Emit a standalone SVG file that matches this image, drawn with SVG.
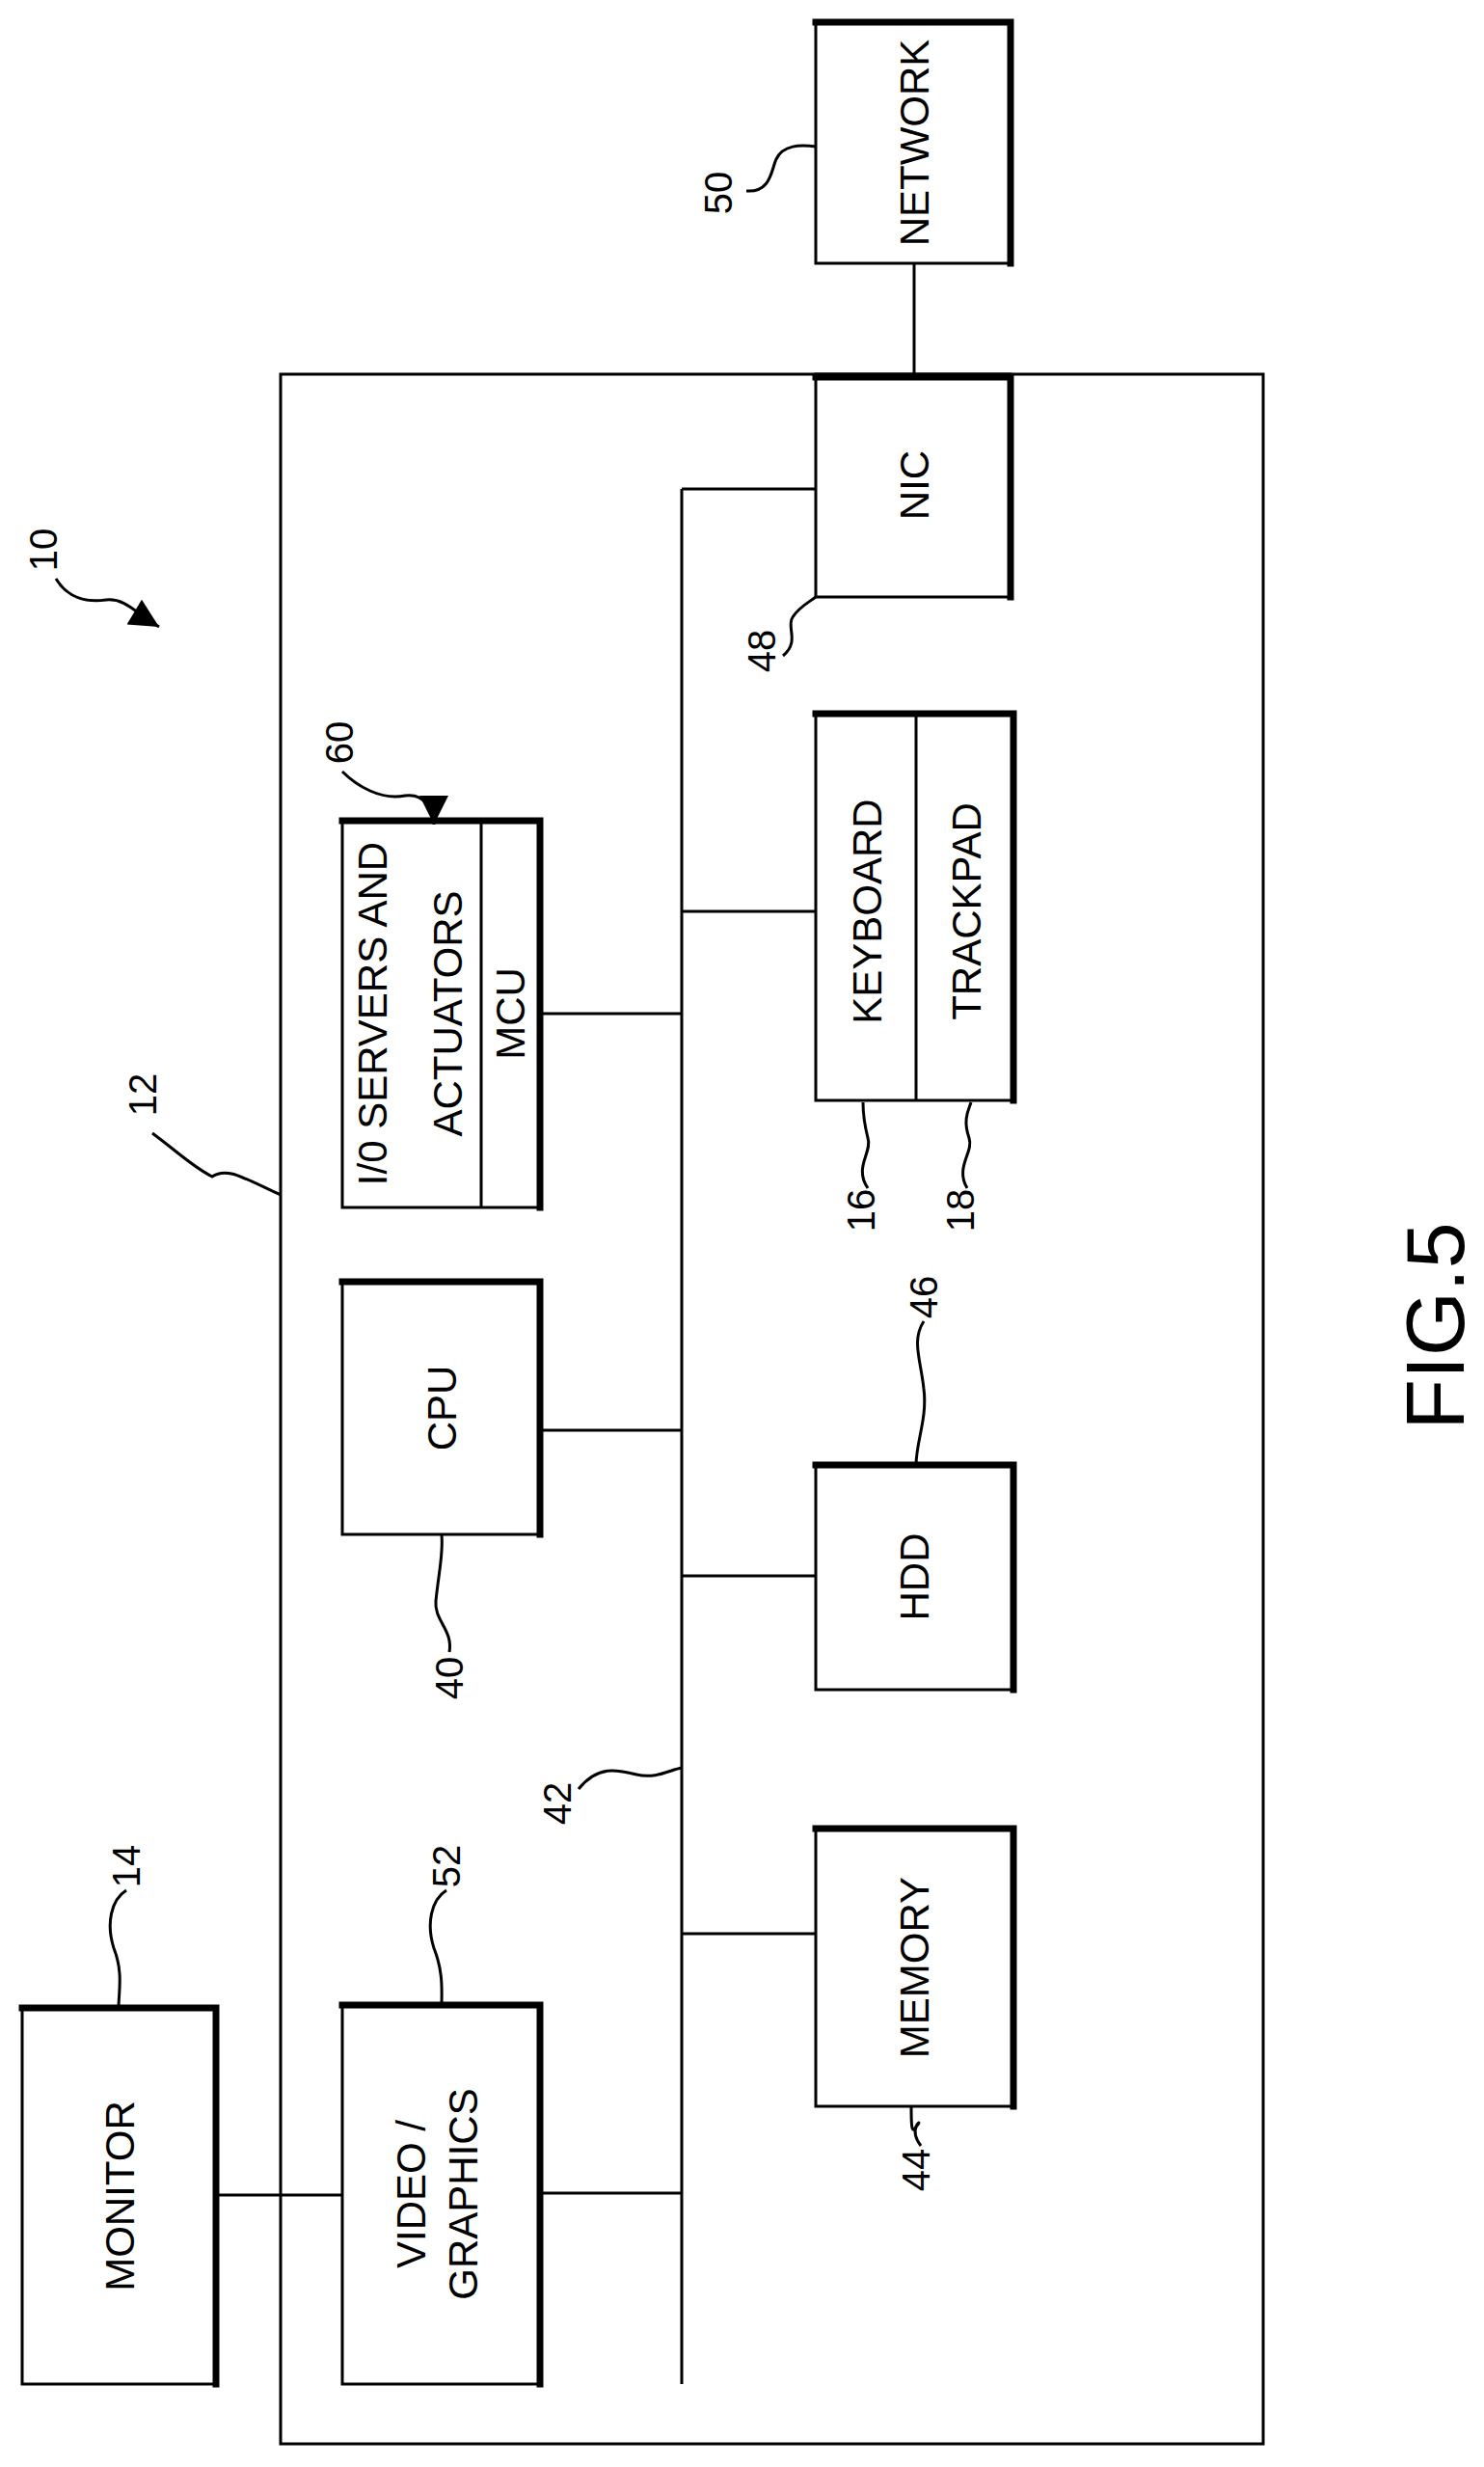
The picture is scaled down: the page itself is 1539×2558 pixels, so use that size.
<svg xmlns="http://www.w3.org/2000/svg" width="1539" height="2558" viewBox="0 0 1539 2558">
<style>
.b{fill:#fff;stroke:#000;stroke-width:3}
.t{stroke:#000;stroke-width:7;fill:none;stroke-linecap:square}
.l{stroke:#000;stroke-width:3;fill:none}
.x{font-family:"Liberation Sans",Arial,sans-serif;font-size:42px;text-anchor:middle;dominant-baseline:central}
.n{font-family:"Liberation Sans",Arial,sans-serif;font-size:40px;text-anchor:middle;dominant-baseline:central}
</style>
<defs><marker id="ah" markerWidth="10" markerHeight="10" refX="9" refY="5" orient="auto" markerUnits="userSpaceOnUse" viewBox="0 0 10 10"><path d="M0,0 L10,5 L0,10 z"/></marker>
<marker id="a2" viewBox="0 0 10 10" refX="10" refY="5" markerWidth="40" markerHeight="30" markerUnits="userSpaceOnUse" orient="auto"><path d="M0,0 L10,5 L0,10 z"/></marker></defs>
<rect x="291" y="388" width="1019" height="2146" fill="none" stroke="#000" stroke-width="3"/>
<g id="connectors">
<line class="l" x1="948" y1="273" x2="948" y2="388"/>
<line class="l" x1="707" y1="507" x2="707" y2="2472"/>
<line class="l" x1="707" y1="507" x2="846" y2="507"/>
<line class="l" x1="707" y1="945" x2="846" y2="945"/>
<line class="l" x1="560" y1="1051" x2="707" y2="1051"/>
<line class="l" x1="560" y1="1483" x2="707" y2="1483"/>
<line class="l" x1="707" y1="1634" x2="846" y2="1634"/>
<line class="l" x1="707" y1="2005" x2="846" y2="2005"/>
<line class="l" x1="560" y1="2274" x2="707" y2="2274"/>
<line class="l" x1="224" y1="2276" x2="355" y2="2276"/>
</g>
<g id="network"><rect class="b" x="846" y="23" width="202" height="250"/><path class="t" d="M846,23 H1048 V273"/><text class="x" transform="translate(948,148) rotate(-90)">NETWORK</text></g>
<g id="nic"><rect class="b" x="846" y="388" width="202" height="231"/><path class="t" d="M846,391 H1048 V619"/><text class="x" transform="translate(948,503) rotate(-90)">NIC</text></g>
<g id="kbd"><rect class="b" x="846" y="740" width="205" height="401"/><path class="t" d="M846,740 H1051 V1141"/><line class="l" x1="950" y1="740" x2="950" y2="1141"/><text class="x" transform="translate(899,945) rotate(-90)">KEYBOARD</text><text class="x" transform="translate(1002,945) rotate(-90)">TRACKPAD</text></g>
<g id="io"><rect class="b" x="355" y="851" width="205" height="401"/><path class="t" d="M355,851 H560 V1252"/><line class="l" x1="499" y1="851" x2="499" y2="1252"/><text class="x" transform="translate(386,1051) rotate(-90)">I/0 SERVERS AND</text><text class="x" transform="translate(464,1051) rotate(-90)">ACTUATORS</text><text class="x" transform="translate(529,1051) rotate(-90)">MCU</text></g>
<g id="cpu"><rect class="b" x="355" y="1329" width="205" height="262"/><path class="t" d="M355,1329 H560 V1591"/><text class="x" transform="translate(458,1460) rotate(-90)">CPU</text></g>
<g id="hdd"><rect class="b" x="846" y="1519" width="205" height="233"/><path class="t" d="M846,1519 H1051 V1752"/><text class="x" transform="translate(948,1635) rotate(-90)">HDD</text></g>
<g id="memory"><rect class="b" x="846" y="1896" width="205" height="288"/><path class="t" d="M846,1896 H1051 V2184"/><text class="x" transform="translate(948,2040) rotate(-90)">MEMORY</text></g>
<g id="video"><rect class="b" x="355" y="2079" width="205" height="393"/><path class="t" d="M355,2079 H560 V2472"/><text class="x" transform="translate(426,2275) rotate(-90)">VIDEO /</text><text class="x" transform="translate(480,2275) rotate(-90)">GRAPHICS</text></g>
<g id="monitor"><rect class="b" x="23" y="2082" width="201" height="390"/><path class="t" d="M23,2082 H224 V2472"/><text class="x" transform="translate(124,2277) rotate(-90)">MONITOR</text></g>
<g id="labels">
<text class="n" transform="translate(745,200) rotate(-90)">50</text>
<path class="l" d="M774,198 C800,200 800,175 805,165 C812,150 830,150 846,152"/>
<text class="n" transform="translate(45,570) rotate(-90)">10</text>
<path class="l" d="M58,600 C70,620 90,625 110,622 C130,620 140,635 165,650" marker-end="url(#a2)"/>
<text class="n" transform="translate(352,770) rotate(-90)">60</text>
<path class="l" d="M355,800 C370,815 395,830 420,825 C440,822 450,840 450,855" marker-end="url(#a2)"/>
<text class="n" transform="translate(790,675) rotate(-90)">48</text>
<path class="l" d="M812,680 C830,665 815,650 822,640 C828,630 838,625 846,619"/>
<text class="n" transform="translate(148,1135) rotate(-90)">12</text>
<path class="l" d="M158,1175 C185,1195 200,1210 220,1220 C235,1210 250,1220 291,1239"/>
<text class="n" transform="translate(893,1255) rotate(-90)">16</text>
<path class="l" d="M900,1232 C885,1210 905,1195 900,1180 C895,1160 895,1150 895,1143"/>
<text class="n" transform="translate(996,1255) rotate(-90)">18</text>
<path class="l" d="M1003,1232 C990,1210 1010,1195 1005,1180 C998,1160 1005,1150 1007,1143"/>
<text class="n" transform="translate(466,1740) rotate(-90)">40</text>
<path class="l" d="M466,1713 C470,1690 450,1680 452,1660 C455,1630 460,1610 458,1592"/>
<text class="n" transform="translate(578,1870) rotate(-90)">42</text>
<path class="l" d="M600,1855 C620,1830 640,1835 660,1840 C680,1845 695,1835 707,1833"/>
<text class="n" transform="translate(958,1345) rotate(-90)">46</text>
<path class="l" d="M958,1370 C945,1390 955,1410 958,1440 C962,1470 950,1495 950,1519"/>
<text class="n" transform="translate(131,1935) rotate(-90)">14</text>
<path class="l" d="M131,1960 C115,1970 110,1995 118,2020 C128,2045 123,2065 123,2082"/>
<text class="n" transform="translate(463,1935) rotate(-90)">52</text>
<path class="l" d="M463,1960 C447,1970 442,1995 450,2020 C460,2045 458,2065 458,2079"/>
<text class="n" transform="translate(950,2250) rotate(-90)">44</text>
<path class="l" d="M955,2225 C940,2205 960,2195 950,2205 C945,2215 945,2200 945,2184"/>
<text x="0" y="0" font-family="Liberation Sans,Arial,sans-serif" font-size="86" text-anchor="middle" dominant-baseline="central" transform="translate(1488,1375) rotate(-90)">FIG.5</text>
</g>
</svg>
